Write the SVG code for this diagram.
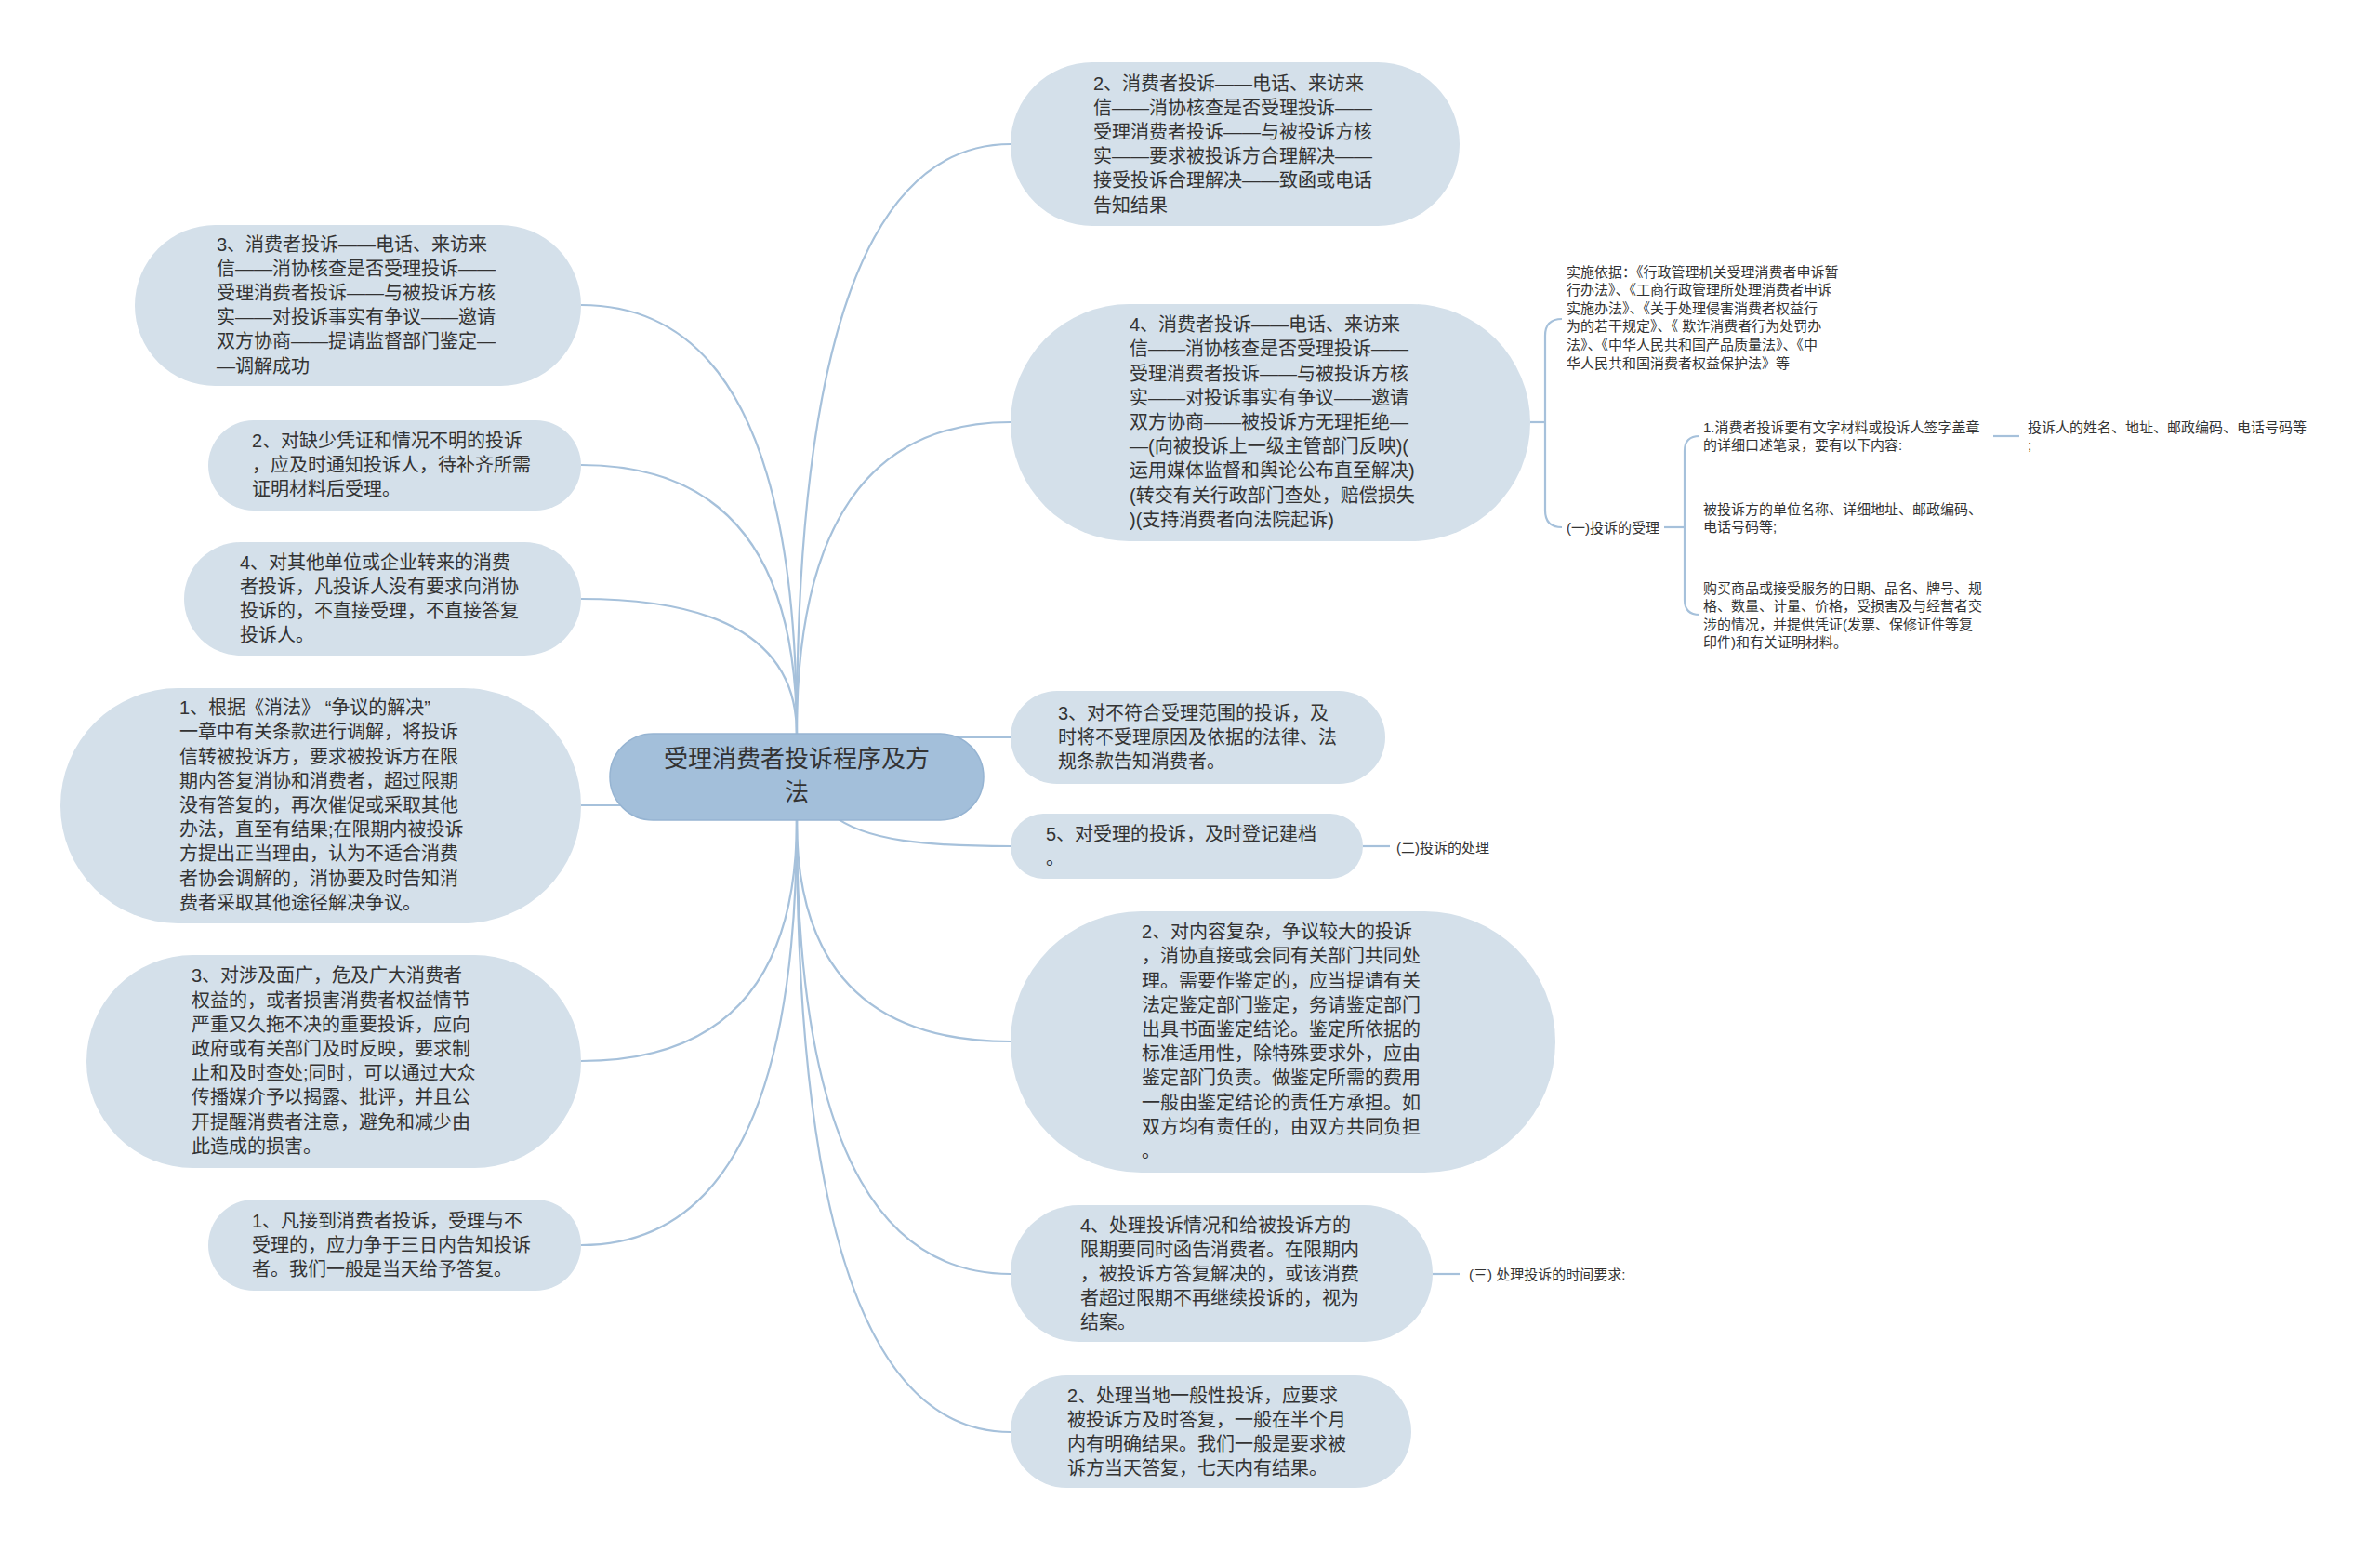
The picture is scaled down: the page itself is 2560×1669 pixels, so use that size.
<svg xmlns="http://www.w3.org/2000/svg" width="2560" height="1669" viewBox="0 0 2560 1669">
<style>
.bg{fill:#ffffff}
.n rect{fill:#d4e0ea;stroke:none}
.c rect{fill:#a3bfda;stroke:#96b4d2;stroke-width:1.5}
text{font-family:"Liberation Sans","Noto Sans CJK SC",sans-serif;fill:#333333}
.t{font-size:20px}
.ct{font-size:26px}
.s{font-size:15px}
.e path{fill:none;stroke:#a6c1db;stroke-width:2.2}
</style>
<rect class="bg" x="0" y="0" width="2560" height="1669"/>
<g id="connectors" class="e">
<path d="M857 789 Q857 328 625 328"/>
<path d="M857 789 Q857 500 625 500"/>
<path d="M857 789 Q857 644 625 644"/>
<path d="M857 789 Q857 155 1087 155"/>
<path d="M857 789 Q857 454 1087 454"/>
<path d="M857 882 Q857 1141 625 1141"/>
<path d="M857 882 Q857 1339 625 1339"/>
<path d="M857 882 Q857 1120 1087 1120"/>
<path d="M857 882 Q857 1370 1087 1370"/>
<path d="M857 882 Q857 1540 1087 1540"/>
<path d="M700 866 H625"/>
<path d="M1010 793 H1087"/>
<path d="M895 876 C930 905 1000 910 1087 910"/>
<path d="M1646 454 H1662"/>
<path d="M1680 343 Q1662 343 1662 361 V549 Q1662 567 1680 567"/>
<path d="M1790 567 H1812"/>
<path d="M1828 469 Q1812 469 1812 485 V645 Q1812 661 1828 661"/>
<path d="M2144 469 H2172"/>
<path d="M1466 910 H1495"/>
<path d="M1541 1370 H1570"/>
</g>
<g id="center" class="c">
<rect x="656" y="789" width="402" height="93" rx="46.5"/>
<text class="ct" text-anchor="middle"><tspan x="857" y="825">受理消费者投诉程序及方</tspan><tspan x="857" y="861">法</tspan></text>
</g>
<g id="L1" class="n">
<rect x="145" y="242" width="480" height="173" rx="86.5"/>
<text class="t"><tspan x="233" y="269.5">3、消费者投诉——电话、来访来</tspan><tspan x="233" y="295.7">信——消协核查是否受理投诉——</tspan><tspan x="233" y="321.9">受理消费者投诉——与被投诉方核</tspan><tspan x="233" y="348.1">实——对投诉事实有争议——邀请</tspan><tspan x="233" y="374.3">双方协商——提请监督部门鉴定—</tspan><tspan x="233" y="400.5">—调解成功</tspan></text>
</g>
<g id="L2" class="n">
<rect x="224" y="452" width="401" height="97" rx="48.5"/>
<text class="t"><tspan x="271" y="480.8">2、对缺少凭证和情况不明的投诉</tspan><tspan x="271" y="507">，应及时通知投诉人，待补齐所需</tspan><tspan x="271" y="533.2">证明材料后受理。</tspan></text>
</g>
<g id="L3" class="n">
<rect x="198" y="583" width="427" height="122" rx="61"/>
<text class="t"><tspan x="258" y="611.7">4、对其他单位或企业转来的消费</tspan><tspan x="258" y="637.9">者投诉，凡投诉人没有要求向消协</tspan><tspan x="258" y="664.1">投诉的，不直接受理，不直接答复</tspan><tspan x="258" y="690.3">投诉人。</tspan></text>
</g>
<g id="L4" class="n">
<rect x="65" y="740" width="560" height="253" rx="126.5"/>
<text class="t"><tspan x="193" y="768.2">1、根据《消法》 “争议的解决”</tspan><tspan x="193" y="794.4">一章中有关条款进行调解，将投诉</tspan><tspan x="193" y="820.6">信转被投诉方，要求被投诉方在限</tspan><tspan x="193" y="846.8">期内答复消协和消费者，超过限期</tspan><tspan x="193" y="873">没有答复的，再次催促或采取其他</tspan><tspan x="193" y="899.2">办法，直至有结果;在限期内被投诉</tspan><tspan x="193" y="925.4">方提出正当理由，认为不适合消费</tspan><tspan x="193" y="951.6">者协会调解的，消协要及时告知消</tspan><tspan x="193" y="977.8">费者采取其他途径解决争议。</tspan></text>
</g>
<g id="L5" class="n">
<rect x="93" y="1027" width="532" height="229" rx="114.5"/>
<text class="t"><tspan x="206" y="1056.3">3、对涉及面广，危及广大消费者</tspan><tspan x="206" y="1082.5">权益的，或者损害消费者权益情节</tspan><tspan x="206" y="1108.7">严重又久拖不决的重要投诉，应向</tspan><tspan x="206" y="1134.9">政府或有关部门及时反映，要求制</tspan><tspan x="206" y="1161.1">止和及时查处;同时，可以通过大众</tspan><tspan x="206" y="1187.3">传播媒介予以揭露、批评，并且公</tspan><tspan x="206" y="1213.5">开提醒消费者注意，避免和减少由</tspan><tspan x="206" y="1239.7">此造成的损害。</tspan></text>
</g>
<g id="L6" class="n">
<rect x="224" y="1290" width="401" height="98" rx="49"/>
<text class="t"><tspan x="271" y="1319.8">1、凡接到消费者投诉，受理与不</tspan><tspan x="271" y="1346">受理的，应力争于三日内告知投诉</tspan><tspan x="271" y="1372.2">者。我们一般是当天给予答复。</tspan></text>
</g>
<g id="R1" class="n">
<rect x="1087" y="67" width="483" height="176" rx="88"/>
<text class="t"><tspan x="1176" y="96.5">2、消费者投诉——电话、来访来</tspan><tspan x="1176" y="122.7">信——消协核查是否受理投诉——</tspan><tspan x="1176" y="148.9">受理消费者投诉——与被投诉方核</tspan><tspan x="1176" y="175.1">实——要求被投诉方合理解决——</tspan><tspan x="1176" y="201.3">接受投诉合理解决——致函或电话</tspan><tspan x="1176" y="227.5">告知结果</tspan></text>
</g>
<g id="R2" class="n">
<rect x="1087" y="327" width="559" height="255" rx="127.5"/>
<text class="t"><tspan x="1215" y="356.2">4、消费者投诉——电话、来访来</tspan><tspan x="1215" y="382.4">信——消协核查是否受理投诉——</tspan><tspan x="1215" y="408.6">受理消费者投诉——与被投诉方核</tspan><tspan x="1215" y="434.8">实——对投诉事实有争议——邀请</tspan><tspan x="1215" y="461">双方协商——被投诉方无理拒绝—</tspan><tspan x="1215" y="487.2">—(向被投诉上一级主管部门反映)(</tspan><tspan x="1215" y="513.4">运用媒体监督和舆论公布直至解决)</tspan><tspan x="1215" y="539.6">(转交有关行政部门查处，赔偿损失</tspan><tspan x="1215" y="565.8">)(支持消费者向法院起诉)</tspan></text>
</g>
<g id="R3" class="n">
<rect x="1087" y="743" width="403" height="100" rx="50"/>
<text class="t"><tspan x="1138" y="773.8">3、对不符合受理范围的投诉，及</tspan><tspan x="1138" y="800">时将不受理原因及依据的法律、法</tspan><tspan x="1138" y="826.2">规条款告知消费者。</tspan></text>
</g>
<g id="R4" class="n">
<rect x="1087" y="875" width="379" height="70" rx="35"/>
<text class="t"><tspan x="1125" y="903.9">5、对受理的投诉，及时登记建档</tspan><tspan x="1125" y="930.1">。</tspan></text>
</g>
<g id="R5" class="n">
<rect x="1087" y="980" width="586" height="281" rx="140.5"/>
<text class="t"><tspan x="1228" y="1009.1">2、对内容复杂，争议较大的投诉</tspan><tspan x="1228" y="1035.3">，消协直接或会同有关部门共同处</tspan><tspan x="1228" y="1061.5">理。需要作鉴定的，应当提请有关</tspan><tspan x="1228" y="1087.7">法定鉴定部门鉴定，务请鉴定部门</tspan><tspan x="1228" y="1113.9">出具书面鉴定结论。鉴定所依据的</tspan><tspan x="1228" y="1140.1">标准适用性，除特殊要求外，应由</tspan><tspan x="1228" y="1166.3">鉴定部门负责。做鉴定所需的费用</tspan><tspan x="1228" y="1192.5">一般由鉴定结论的责任方承担。如</tspan><tspan x="1228" y="1218.7">双方均有责任的，由双方共同负担</tspan><tspan x="1228" y="1244.9">。</tspan></text>
</g>
<g id="R6" class="n">
<rect x="1087" y="1296" width="454" height="147" rx="73.5"/>
<text class="t"><tspan x="1162" y="1324.6">4、处理投诉情况和给被投诉方的</tspan><tspan x="1162" y="1350.8">限期要同时函告消费者。在限期内</tspan><tspan x="1162" y="1377">，被投诉方答复解决的，或该消费</tspan><tspan x="1162" y="1403.2">者超过限期不再继续投诉的，视为</tspan><tspan x="1162" y="1429.4">结案。</tspan></text>
</g>
<g id="R7" class="n">
<rect x="1087" y="1479" width="431" height="121" rx="60.5"/>
<text class="t"><tspan x="1148" y="1507.7">2、处理当地一般性投诉，应要求</tspan><tspan x="1148" y="1533.9">被投诉方及时答复，一般在半个月</tspan><tspan x="1148" y="1560.1">内有明确结果。我们一般是要求被</tspan><tspan x="1148" y="1586.3">诉方当天答复，七天内有结果。</tspan></text>
</g>
<g id="basis">
<text class="s"><tspan x="1685" y="297.5">实施依据：《行政管理机关受理消费者申诉暂</tspan><tspan x="1685" y="317.1">行办法》、《工商行政管理所处理消费者申诉</tspan><tspan x="1685" y="336.7">实施办法》、《关于处理侵害消费者权益行</tspan><tspan x="1685" y="356.3">为的若干规定》、《 欺诈消费者行为处罚办</tspan><tspan x="1685" y="375.9">法》、《中华人民共和国产品质量法》、《中</tspan><tspan x="1685" y="395.5">华人民共和国消费者权益保护法》等</tspan></text>
</g>
<g id="acceptance">
<text class="s" x="1685" y="572.5">(一)投诉的受理</text>
</g>
<g id="item-a">
<text class="s"><tspan x="1832" y="464.5">1.消费者投诉要有文字材料或投诉人签字盖章</tspan><tspan x="1832" y="484.1">的详细口述笔录，要有以下内容:</tspan></text>
</g>
<g id="item-a1">
<text class="s"><tspan x="2181" y="464.5">投诉人的姓名、地址、邮政编码、电话号码等</tspan><tspan x="2181" y="484.1">;</tspan></text>
</g>
<g id="item-b">
<text class="s"><tspan x="1832" y="552.5">被投诉方的单位名称、详细地址、邮政编码、</tspan><tspan x="1832" y="572.1">电话号码等;</tspan></text>
</g>
<g id="item-c">
<text class="s"><tspan x="1832" y="637.5">购买商品或接受服务的日期、品名、牌号、规</tspan><tspan x="1832" y="657.1">格、数量、计量、价格，受损害及与经营者交</tspan><tspan x="1832" y="676.7">涉的情况，并提供凭证(发票、保修证件等复</tspan><tspan x="1832" y="696.3">印件)和有关证明材料。</tspan></text>
</g>
<g id="handling">
<text class="s" x="1502" y="916.5">(二)投诉的处理</text>
</g>
<g id="time">
<text class="s" x="1580" y="1375.5">(三) 处理投诉的时间要求:</text>
</g>
</svg>
